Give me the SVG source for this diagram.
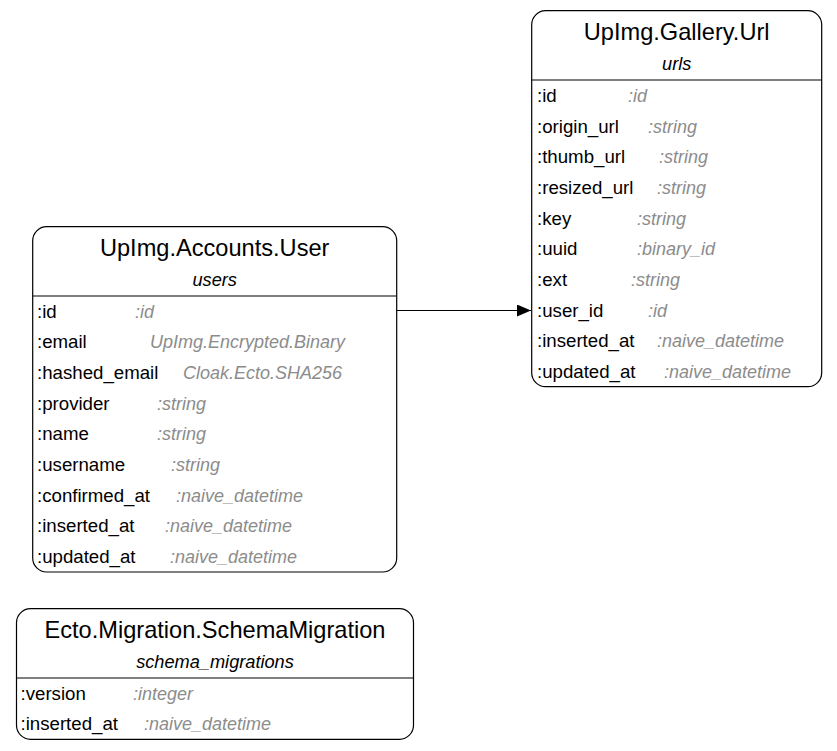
<svg xmlns="http://www.w3.org/2000/svg" width="837" height="751" viewBox="0 0 837 751">
<style>
.box{fill:#fff;stroke:#000;stroke-width:1.2}
.sep{stroke:#000;stroke-width:1.2}
.title{font-family:"Liberation Sans",Arial,Helvetica,sans-serif;font-size:23.6px;fill:#000;text-anchor:middle}
.sub{font-family:"Liberation Sans",Arial,Helvetica,sans-serif;font-size:18.2px;font-style:italic;fill:#000;text-anchor:middle}
.f{font-family:"Liberation Sans",Arial,Helvetica,sans-serif;font-size:18.67px;fill:#000}
.t{font-family:"Liberation Sans",Arial,Helvetica,sans-serif;font-size:18px;font-style:italic;fill:#8c8c8c}
.edge{stroke:#000;stroke-width:1.2;fill:none}
</style>
<defs>
<marker id="arr" markerWidth="14" markerHeight="12" refX="14" refY="6" orient="auto" markerUnits="userSpaceOnUse">
<path d="M0,0 L14,6 L0,12 Z" fill="#000"/>
</marker>
</defs>
<rect width="837" height="751" fill="#fff"/>
<g id="connectors">
<path class="edge" d="M397,310.5 L531,310.5" marker-end="url(#arr)"/>
</g>
<g id="node-url">
<rect class="box" x="531.7" y="10.7" width="290" height="376" rx="14" ry="14"/>
<line class="sep" x1="531.7" y1="80" x2="821.7" y2="80"/>
<text class="title" x="676.7" y="40">UpImg.Gallery.Url</text>
<text class="sub" x="676.7" y="70">urls</text>
<text class="f" x="537" y="102">:id</text><text class="t" x="628" y="102">:id</text>
<text class="f" x="537" y="132.7">:origin_url</text><text class="t" x="648" y="132.7">:string</text>
<text class="f" x="537" y="163.3">:thumb_url</text><text class="t" x="659" y="163.3">:string</text>
<text class="f" x="537" y="194">:resized_url</text><text class="t" x="657" y="194">:string</text>
<text class="f" x="537" y="224.7">:key</text><text class="t" x="637" y="224.7">:string</text>
<text class="f" x="537" y="255.3">:uuid</text><text class="t" x="637" y="255.3">:binary_id</text>
<text class="f" x="537" y="286">:ext</text><text class="t" x="631" y="286">:string</text>
<text class="f" x="537" y="316.7">:user_id</text><text class="t" x="648" y="316.7">:id</text>
<text class="f" x="537" y="347.3">:inserted_at</text><text class="t" x="657" y="347.3">:naive_datetime</text>
<text class="f" x="537" y="378">:updated_at</text><text class="t" x="664" y="378">:naive_datetime</text>
</g>
<g id="node-user">
<rect class="box" x="32.7" y="226.7" width="364" height="345.3" rx="14" ry="14"/>
<line class="sep" x1="32.7" y1="296" x2="396.7" y2="296"/>
<text class="title" x="214.7" y="256">UpImg.Accounts.User</text>
<text class="sub" x="214.7" y="286">users</text>
<text class="f" x="37" y="317.5">:id</text><text class="t" x="135" y="317.5">:id</text>
<text class="f" x="37" y="348.2">:email</text><text class="t" x="150" y="348.2">UpImg.Encrypted.Binary</text>
<text class="f" x="37" y="378.8">:hashed_email</text><text class="t" x="183" y="378.8">Cloak.Ecto.SHA256</text>
<text class="f" x="37" y="409.5">:provider</text><text class="t" x="157" y="409.5">:string</text>
<text class="f" x="37" y="440.2">:name</text><text class="t" x="157" y="440.2">:string</text>
<text class="f" x="37" y="470.8">:username</text><text class="t" x="171" y="470.8">:string</text>
<text class="f" x="37" y="501.5">:confirmed_at</text><text class="t" x="176" y="501.5">:naive_datetime</text>
<text class="f" x="37" y="532.2">:inserted_at</text><text class="t" x="165" y="532.2">:naive_datetime</text>
<text class="f" x="37" y="562.8">:updated_at</text><text class="t" x="170" y="562.8">:naive_datetime</text>
</g>
<g id="node-schema-migration">
<rect class="box" x="16.5" y="608.7" width="397" height="130.6" rx="14" ry="14"/>
<line class="sep" x1="16.5" y1="678" x2="413.5" y2="678"/>
<text class="title" x="215" y="638">Ecto.Migration.SchemaMigration</text>
<text class="sub" x="215" y="668">schema_migrations</text>
<text class="f" x="20.5" y="699.5">:version</text><text class="t" x="133" y="699.5">:integer</text>
<text class="f" x="20.5" y="730.2">:inserted_at</text><text class="t" x="144" y="730.2">:naive_datetime</text>
</g>
</svg>
